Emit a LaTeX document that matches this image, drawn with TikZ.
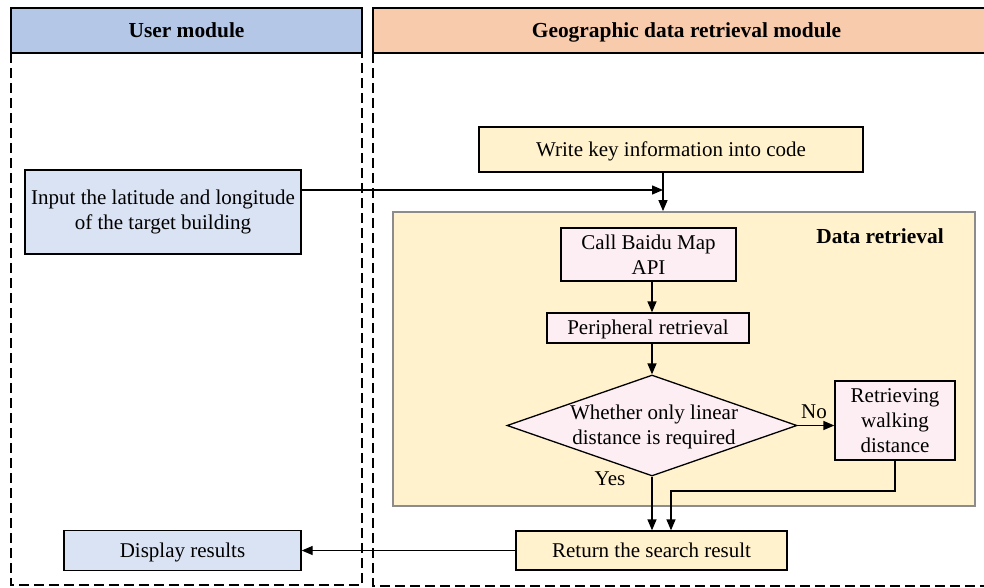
\documentclass[tikz,border=0pt]{standalone}
\usepackage{fontspec}
\setmainfont{Liberation Serif}
\usetikzlibrary{arrows.meta,shapes.geometric,calc}
\definecolor{hdrblue}{HTML}{B4C7E7}
\definecolor{boxblue}{HTML}{DAE3F3}
\definecolor{hdrorange}{HTML}{F8CBAD}
\definecolor{boxyellow}{HTML}{FFF2CC}
\definecolor{boxpink}{HTML}{FCEEF2}
\definecolor{framegray}{HTML}{8C8C8C}
\begin{document}
\begin{tikzpicture}[x=1pt,y=-1pt,
  font=\fontsize{21}{25}\selectfont,
  box/.style={draw, line width=1.3pt, rectangle, inner sep=0pt, align=center},
  arr/.style={line width=1.3pt, -{Triangle[length=11pt,width=9pt]}},
  lane/.style={dash pattern=on 10pt off 5pt, line width=1.2pt},
  hdrfont/.style={font=\fontsize{21.4}{25}\selectfont\bfseries},
]
\useasboundingbox (0,0) rectangle (984,587);
\clip (0,0) rectangle (984,587);

% swim lanes
\draw[lane] (11,53) rectangle (362,585);
\draw[lane] (373,53) rectangle (1000,586);
\node[box, fill=hdrblue, minimum width=351pt, minimum height=45pt, hdrfont, text depth=1pt]
  (userhdr) at (186.5,30.5) {User module};
\node[box, fill=hdrorange, minimum width=627pt, minimum height=45pt, hdrfont, text depth=1pt]
  (geohdr) at (686.5,30.5) {Geographic data retrieval module};

% data retrieval container
\node[draw=framegray, line width=1.8pt, fill=boxyellow, minimum width=582pt, minimum height=294pt, inner sep=0pt]
  (dr) at (684,359) {};
\node[hdrfont] (drlabel) at (880,236) {Data retrieval};

% process boxes
\node[box, fill=boxyellow, minimum width=384pt, minimum height=45pt, text depth=1pt] (wk) at (671,149.5) {Write key information into code};
\node[box, fill=boxblue, minimum width=276pt, minimum height=84pt] (input) at (163,212)
  {Input the latitude and longitude\\of the target building};
\node[box, fill=boxpink, minimum width=175pt, minimum height=53pt] (api) at (648.5,254.5) {Call Baidu Map\\API};
\node[box, fill=boxpink, minimum width=202pt, minimum height=30pt, text depth=1pt] (peri) at (648,328) {Peripheral retrieval};
\node[draw, line width=1.3pt, diamond, fill=boxpink, minimum width=290pt, minimum height=101pt, inner sep=0pt]
  (dia) at (652,425.5) {};
\node[align=center, inner sep=0pt] (diatext) at (654,427) {Whether only linear\\distance is required};
\node[box, fill=boxpink, minimum width=120pt, minimum height=79pt] (rwd) at (895,420.5) {Retrieving\\walking\\distance};
\node[box, fill=boxyellow, minimum width=271pt, minimum height=39pt, text depth=1pt] (ret) at (651.5,550.5) {Return the search result};
\node[box, fill=boxblue, minimum width=237pt, minimum height=40pt, text depth=1pt] (disp) at (182.5,550.5) {Display results};
\node (yes) at (610,479) {Yes};

% connectors
\coordinate (join) at (663,190);
\coordinate (bend) at (671,491);
\draw[arr] (input.east |- join) -- (join);
\draw[arr] (wk.south -| join) -- (dr.north -| join);
\draw[arr] (api.south -| dia.north) -- (peri.north -| dia.north);
\draw[arr] (peri.south -| dia.north) -- (dia.north);
\draw[arr] (dia.east) -- node[above, yshift=3pt, xshift=-2pt] (no) {No} (rwd.west |- dia.east);
\draw[arr] (dia.south) -- (ret.north -| dia.south);
\draw[arr] (rwd.south) |- (bend) -- (ret.north -| bend);
\draw[arr] (ret.west) -- (disp.east);
\end{tikzpicture}
\end{document}
